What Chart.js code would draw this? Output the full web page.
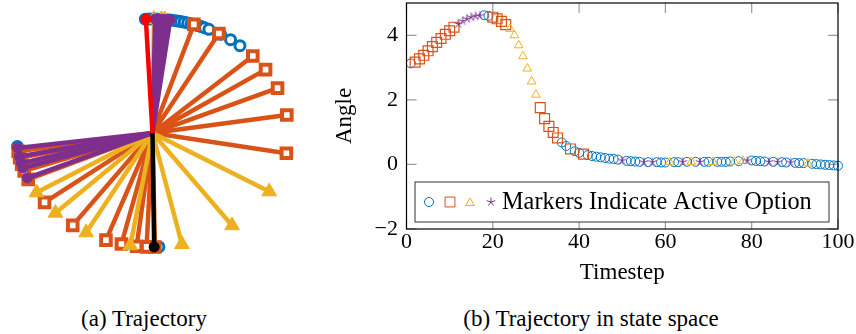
<!DOCTYPE html>
<html>
<head>
<meta charset="utf-8">
<script src="https://cdn.jsdelivr.net/npm/chart.js@4.4.1/dist/chart.umd.min.js"></script>
<style>
  html, body { margin: 0; padding: 0; background: #fff; }
  body { width: 856px; height: 334px; position: relative; overflow: hidden; font-family: "Liberation Serif", serif; }
  .box { position: absolute; }
  #trajBox { left: 0; top: 0; width: 305px; height: 260px; }
  #stateBox { left: 330px; top: 0; width: 526px; height: 300px; }
  .caption { position: absolute; top: 306px; font-size: 23px; line-height: 26px; color: #000; white-space: nowrap; transform: translateX(-50%); }
</style>
</head>
<body>
<div class="box" id="trajBox"><canvas id="traj"></canvas></div>
<div class="box" id="stateBox"><canvas id="state"></canvas></div>
<div class="caption" style="left:144px">(a) Trajectory</div>
<div class="caption" style="left:591px">(b) Trajectory in state space</div>
<script>
// couleurs des options (palette matlab)
const BLUE = '#0072BD', ORANGE = '#D95319', YELLOW = '#EDB120', PURPLE = '#7E2F8E';

// (a) angles des extrémités du pendule en degrés (0 = en bas, 180 = en haut)
const circleTips = [183, 181.5, 180, 178.5, 177, 175.5, 174, 172.5, 171, 169.5, 168, 166.5,
  165, 163.5, 162, 160.5, 159, 157.5, 155.5, 150, 145, 140, -83.2, 2.7];
const squareTips = [162.3, 150.8, 132.5, 123.8, 113.2, 99.1, 79.8, -80.8, -77.5, -74.1,
  -70.6, -66, -52.5, -35.9, -20, -13.2, -6.7, -2.5, 1];
const triangleTips = [179.4, 176.2, 174.8, 59.1, 35.8, 12.5, -58.5, -45.5, -29.2, -9.4];
const dotTips = [178.9, 177.2, 175.5, 173.8, 172.5, -82.5, -78.1, -74.7, -72.1, -66.8];
const startTip = [182.8];
const endTip = [0.7];

// (b) angle à chaque pas de temps (1..100)
const angle = [
  3.13, 3.17, 3.27, 3.38, 3.52, 3.65, 3.78, 3.90, 4.03, 4.14,
  4.25, 4.35, 4.44, 4.51, 4.56, 4.59, 4.61, 4.62, 4.60, 4.56,
  4.51, 4.43, 4.33, 4.20, 4.00, 3.69, 3.35, 2.97, 2.57, 2.16,
  1.76, 1.42, 1.18, 0.99, 0.82, 0.68, 0.57, 0.48, 0.41, 0.36,
  0.32, 0.29, 0.26, 0.24, 0.22, 0.20, 0.18, 0.17, 0.15, 0.12,
  0.11, 0.10, 0.09, 0.08, 0.07, 0.07, 0.07, 0.07, 0.06, 0.06,
  0.07, 0.07, 0.07, 0.08, 0.08, 0.08, 0.08, 0.08, 0.08, 0.08,
  0.08, 0.08, 0.08, 0.08, 0.09, 0.09, 0.10, 0.11, 0.12, 0.12,
  0.11, 0.10, 0.09, 0.08, 0.08, 0.07, 0.07, 0.06, 0.06, 0.05,
  0.04, 0.04, 0.03, 0.02, 0.01, 0.00, -0.01, -0.02, -0.03, -0.04
];
// option active : 0 cercle, 1 carré, 2 triangle, 3 étoile
const option = [
  0, 1, 1, 1, 1, 1, 1, 1, 1, 1,
  1, 3, 3, 3, 3, 3, 3, 0, 0, 1,
  1, 1, 1, 2, 2, 2, 2, 2, 2, 2,
  1, 1, 1, 1, 1, 0, 0, 1, 0, 0,
  1, 0, 0, 0, 0, 0, 0, 0, 0, 3,
  0, 0, 0, 0, 3, 0, 3, 0, 0, 0,
  2, 0, 0, 3, 0, 2, 0, 3, 0, 0,
  2, 0, 0, 0, 0, 2, 0, 2, 3, 0,
  0, 0, 0, 3, 0, 3, 0, 0, 3, 0,
  0, 0, 2, 0, 0, 0, 0, 0, 0, 0
];
const xTicks = [0, 20, 40, 60, 80, 100];
const yTicks = [-2, 0, 2, 4];
const legendText = 'Markers Indicate Active Option';

const SERIF = '"Liberation Serif", "Times New Roman", serif';

// étoile à 5 branches (pas dispo dans chart.js)
function asterisk(size, color) {
  const c = document.createElement('canvas');
  c.width = c.height = size;
  const g = c.getContext('2d');
  g.strokeStyle = color;
  g.lineWidth = 1;
  const m = size / 2, r = size / 2 - 0.5;
  g.beginPath();
  for (let k = 0; k < 5; k++) {
    const a = -Math.PI / 2 + k * 2 * Math.PI / 5;
    g.moveTo(m, m);
    g.lineTo(m + r * Math.cos(a), m + r * Math.sin(a));
  }
  g.stroke();
  return c;
}
const starImg = asterisk(10, PURPLE);

// ---------- (a) trajectoire ----------
function tip(deg) {
  const r = deg * Math.PI / 180;
  return { x: Math.sin(r), y: -Math.cos(r) };
}

function rods(angles, color, marker, order) {
  return angles.map(a => ({
    data: [{ x: 0, y: 0 }, tip(a)],
    showLine: true,
    borderColor: color,
    borderWidth: 4.5,
    pointRadius: [0, marker.radius],
    pointHoverRadius: [0, marker.radius],
    pointStyle: marker.style,
    pointBackgroundColor: marker.fill,
    pointBorderColor: color,
    pointBorderWidth: marker.border,
    order: order,
    clip: false
  }));
}

const trajDatasets = [
  {
    data: circleTips.map(tip),
    showLine: false,
    pointRadius: 5,
    pointStyle: 'circle',
    pointBackgroundColor: '#fff',
    pointBorderColor: BLUE,
    pointBorderWidth: 3,
    order: 6,
    clip: false
  },
  ...rods(squareTips, ORANGE, { radius: 6.8, style: 'rect', fill: '#fff', border: 4 }, 5),
  ...rods(triangleTips, YELLOW, { radius: 8.5, style: 'triangle', fill: YELLOW, border: 1 }, 4),
  ...rods(dotTips, PURPLE, { radius: 5, style: 'circle', fill: PURPLE, border: 1 }, 3),
  ...rods(startTip, '#FF0000', { radius: 5, style: 'circle', fill: '#FF0000', border: 1 }, 2),
  ...rods(endTip, '#000', { radius: 5, style: 'circle', fill: '#000', border: 1 }, 1)
];

new Chart(document.getElementById('traj'), {
  type: 'scatter',
  data: { datasets: trajDatasets },
  options: {
    responsive: true,
    maintainAspectRatio: false,
    animation: false,
    layout: { padding: 0, autoPadding: false },
    plugins: { legend: { display: false }, tooltip: { enabled: false } },
    scales: {
      x: { type: 'linear', display: false, min: -1.121, max: 1.121 },
      y: { type: 'linear', display: false, min: -1.114, max: 1.167 }
    }
  }
});

// ---------- (b) espace d'état ----------
function seriesFor(code) {
  const pts = [];
  angle.forEach((v, i) => { if (option[i] === code) pts.push({ x: i + 1, y: v }); });
  return pts;
}

// ticks intérieurs gris + cadre + légende
const frameAndLegend = {
  id: 'frameAndLegend',
  beforeDatasetsDraw(chart) {
    const { ctx, chartArea: a, scales } = chart;
    const len = 10;
    ctx.save();
    ctx.strokeStyle = '#9a9a9a';
    ctx.lineWidth = 1.2;
    ctx.beginPath();
    xTicks.forEach(v => {
      const px = scales.x.getPixelForValue(v);
      ctx.moveTo(px, a.bottom); ctx.lineTo(px, a.bottom - len);
      ctx.moveTo(px, a.top); ctx.lineTo(px, a.top + len);
    });
    yTicks.forEach(v => {
      const py = scales.y.getPixelForValue(v);
      ctx.moveTo(a.left, py); ctx.lineTo(a.left + len, py);
      ctx.moveTo(a.right, py); ctx.lineTo(a.right - len, py);
    });
    ctx.stroke();
    ctx.restore();
  },
  afterDatasetsDraw(chart) {
    const { ctx, chartArea: a } = chart;
    ctx.save();
    ctx.strokeStyle = '#000';
    ctx.lineWidth = 1.2;
    ctx.strokeRect(a.left, a.top, a.right - a.left, a.bottom - a.top);

    // légende
    const bx = a.left + 8.5, bw = a.right - a.left - 17.5;
    const by = a.bottom - 47, bh = 40;
    ctx.fillStyle = '#fff';
    ctx.fillRect(bx, by, bw, bh);
    ctx.strokeStyle = '#333';
    ctx.lineWidth = 1;
    ctx.strokeRect(bx, by, bw, bh);
    const cy = by + bh / 2;
    const draw = Chart.helpers.drawPoint;
    ctx.lineWidth = 1;
    ctx.strokeStyle = BLUE; ctx.fillStyle = 'rgba(0,0,0,0)';
    draw(ctx, { pointStyle: 'circle', radius: 4.5, borderWidth: 1 }, bx + 14, cy);
    ctx.strokeStyle = ORANGE;
    draw(ctx, { pointStyle: 'rect', radius: 7, borderWidth: 1 }, bx + 35, cy);
    ctx.strokeStyle = YELLOW;
    draw(ctx, { pointStyle: 'triangle', radius: 5, borderWidth: 1 }, bx + 55, cy + 1);
    draw(ctx, { pointStyle: starImg, radius: 5 }, bx + 76, cy);
    ctx.fillStyle = '#000';
    ctx.font = '24.3px ' + SERIF;
    ctx.textBaseline = 'middle';
    ctx.textAlign = 'left';
    ctx.fillText(legendText, bx + 87, cy + 1);
    ctx.restore();
  }
};

const tickFont = { family: SERIF, size: 22, lineHeight: 1.2 };
const titleFont = { family: SERIF, size: 23, lineHeight: 1.2 };

new Chart(document.getElementById('state'), {
  type: 'scatter',
  data: {
    datasets: [
      { data: seriesFor(2), pointStyle: 'triangle', pointRadius: 5, borderColor: YELLOW, backgroundColor: 'rgba(0,0,0,0)', borderWidth: 1, order: 2, clip: false },
      { data: seriesFor(3), pointStyle: starImg, pointRadius: 5, borderColor: PURPLE, backgroundColor: 'rgba(0,0,0,0)', borderWidth: 1, order: 1, clip: false },
      { data: seriesFor(1), pointStyle: 'rect', pointRadius: 7, borderColor: ORANGE, backgroundColor: 'rgba(0,0,0,0)', borderWidth: 1.2, order: 3, clip: false },
      { data: seriesFor(0), pointStyle: 'circle', pointRadius: 4.5, borderColor: BLUE, backgroundColor: 'rgba(0,0,0,0)', borderWidth: 1, order: 4, clip: false }
    ]
  },
  options: {
    responsive: true,
    maintainAspectRatio: false,
    animation: false,
    layout: { padding: { left: 0, right: 18, top: 3, bottom: 0 }, autoPadding: false },
    plugins: { legend: { display: false }, tooltip: { enabled: false } },
    scales: {
      x: {
        type: 'linear', min: 0, max: 100,
        grid: { display: false, drawTicks: false },
        border: { display: false },
        afterBuildTicks: s => { s.ticks = xTicks.map(v => ({ value: v })); },
        afterFit: s => { s.height = 71; s.paddingLeft = 0; s.paddingRight = 0; },
        ticks: { font: tickFont, color: '#000', padding: 0, maxRotation: 0, autoSkip: false, callback: v => String(v) },
        title: { display: true, text: 'Timestep', font: titleFont, color: '#000', padding: { top: 0, bottom: 13 } }
      },
      y: {
        type: 'linear', min: -2, max: 5,
        grid: { display: false, drawTicks: false },
        border: { display: false },
        afterBuildTicks: s => { s.ticks = yTicks.map(v => ({ value: v })); },
        afterFit: s => { s.width = 76.5; s.paddingTop = 0; s.paddingBottom = 0; },
        ticks: { font: tickFont, color: '#000', padding: 8.5, autoSkip: false, callback: v => (v < 0 ? '\u2212' + Math.abs(v) : String(v)) },
        title: { display: true, text: 'Angle', font: titleFont, color: '#000', padding: { top: 1, bottom: 0 } }
      }
    }
  },
  plugins: [frameAndLegend]
});
</script>
</body>
</html>
